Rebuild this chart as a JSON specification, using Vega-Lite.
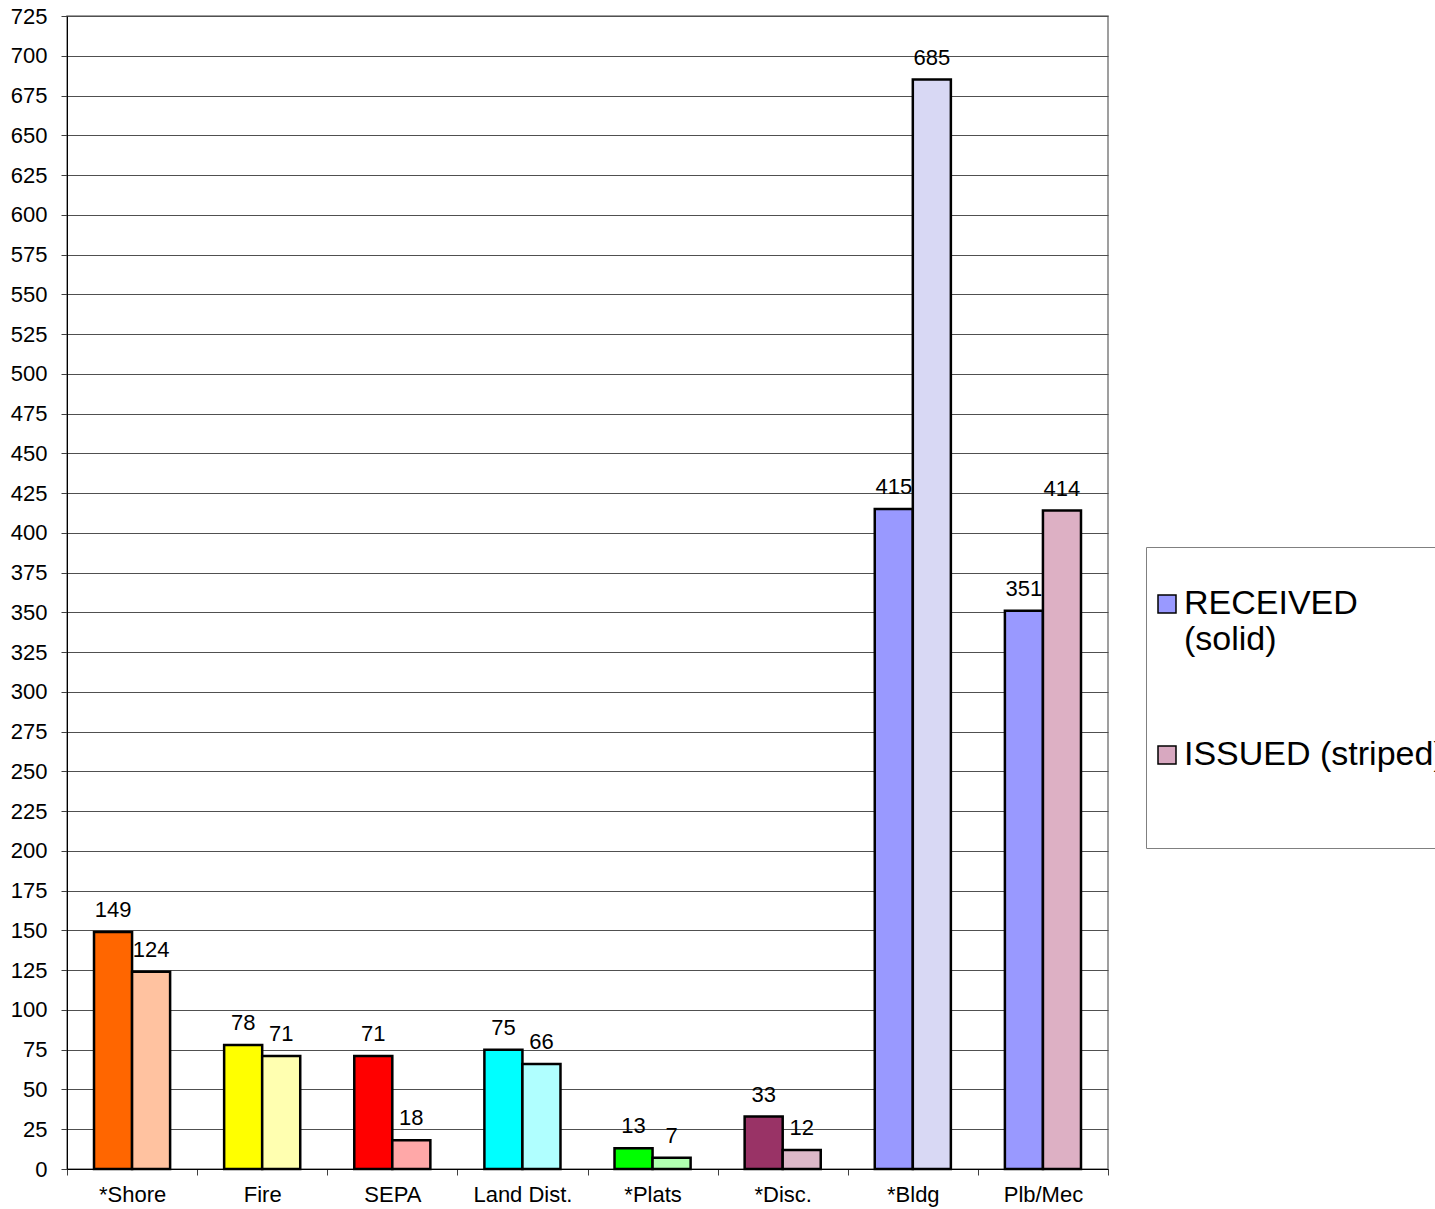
{
  "$schema": "https://vega.github.io/schema/vega-lite/v6.json",
  "width": 1041,
  "height": 1153,
  "autosize": "none",
  "padding": {"left": 67, "top": 16, "right": 327, "bottom": 40},
  "background": "white",
  "config": {
    "font": "Liberation Sans",
    "view": {"fill": "#C0C0C0", "stroke": "#808080", "strokeWidth": 1.5}
  },
  "data": {
    "values": [
      {"category": "*Shore", "type": "RECEIVED", "bar": "Shore R", "value": 149},
      {"category": "*Shore", "type": "ISSUED", "bar": "Shore I", "value": 124},
      {"category": "Fire", "type": "RECEIVED", "bar": "Fire R", "value": 78},
      {"category": "Fire", "type": "ISSUED", "bar": "Fire I", "value": 71},
      {"category": "SEPA", "type": "RECEIVED", "bar": "SEPA R", "value": 71},
      {"category": "SEPA", "type": "ISSUED", "bar": "SEPA I", "value": 18},
      {"category": "Land Dist.", "type": "RECEIVED", "bar": "Land R", "value": 75},
      {"category": "Land Dist.", "type": "ISSUED", "bar": "Land I", "value": 66},
      {"category": "*Plats", "type": "RECEIVED", "bar": "Plats R", "value": 13},
      {"category": "*Plats", "type": "ISSUED", "bar": "Plats I", "value": 7},
      {"category": "*Disc.", "type": "RECEIVED", "bar": "Disc R", "value": 33},
      {"category": "*Disc.", "type": "ISSUED", "bar": "Disc I", "value": 12},
      {"category": "*Bldg", "type": "RECEIVED", "bar": "Bldg R", "value": 415},
      {"category": "*Bldg", "type": "ISSUED", "bar": "Bldg I", "value": 685},
      {"category": "Plb/Mec", "type": "RECEIVED", "bar": "Plb R", "value": 351},
      {"category": "Plb/Mec", "type": "ISSUED", "bar": "Plb I", "value": 414}
    ]
  },
  "encoding": {
    "x": {
      "field": "category", "type": "nominal", "sort": null,
      "scale": {"paddingInner": 0, "paddingOuter": 0},
      "axis": {
        "title": null, "labelAngle": 0, "labelFontSize": 22, "labelColor": "black",
        "tickBand": "extent", "tickSize": 6, "tickColor": "#404040", "domainColor": "black",
        "labelPadding": 9
      }
    },
    "xOffset": {
      "field": "type", "type": "nominal", "sort": ["RECEIVED", "ISSUED"],
      "scale": {"paddingOuter": 0.71, "paddingInner": 0}
    },
    "y": {
      "field": "value", "type": "quantitative",
      "scale": {"domain": [0, 725], "nice": false},
      "axis": {
        "title": null, "labelFontSize": 22, "labelColor": "black",
        "values": [0,25,50,75,100,125,150,175,200,225,250,275,300,325,350,375,400,425,450,475,500,525,550,575,600,625,650,675,700,725],
        "grid": true, "gridColor": "#505050", "gridWidth": 1,
        "tickSize": 6, "tickColor": "#404040", "domainColor": "black", "labelPadding": 14
      }
    }
  },
  "layer": [
    {
      "mark": {"type": "bar", "stroke": "black", "strokeWidth": 2.5},
      "encoding": {
        "fill": {
          "field": "bar", "type": "nominal", "legend": null,
          "scale": {
            "domain": ["Shore R","Shore I","Fire R","Fire I","SEPA R","SEPA I","Land R","Land I","Plats R","Plats I","Disc R","Disc I","Bldg R","Bldg I","Plb R","Plb I"],
            "range": ["#FF6600","#FFC2A0","#FFFF00","#FFFFB0","#FF0000","#FFA8A8","#00FFFF","#B0FFFF","#00FF00","#B0FFB0","#993366","#DDB8C8","#9999FF","#D8D8F4","#9999FF","#DDB0C4"]
          }
        }
      }
    },
    {
      "mark": {"type": "text", "baseline": "alphabetic", "dy": -15, "fontSize": 22, "color": "black"},
      "encoding": {"text": {"field": "value", "type": "quantitative"}}
    },
    {
      "data": {"values": [{"series": "RECEIVED (solid)"}, {"series": "ISSUED (striped)"}]},
      "mark": {"type": "square", "opacity": 0, "size": 0},
      "encoding": {
        "x": null, "xOffset": null, "y": null,
        "color": {
          "field": "series", "type": "nominal",
          "scale": {"domain": ["RECEIVED (solid)", "ISSUED (striped)"], "range": ["#9999FF", "#D8A8C0"]},
          "legend": {
            "orient": "none", "legendX": 1079, "legendY": 531,
            "title": " ", "titleFontSize": 20, "titlePadding": 16,
            "labelFontSize": 34, "labelColor": "black", "labelLimit": 1000,
            "labelBaseline": "middle",
            "labelExpr": "datum.label == 'RECEIVED (solid)' ? ['RECEIVED', '(solid)', '', ''] : ['ISSUED (striped)', '', '']",
            "symbolType": "square", "symbolSize": 324, "symbolOpacity": 1,
            "symbolStrokeColor": "black", "symbolStrokeWidth": 1.5,
            "rowPadding": 9, "padding": 4, "labelOffset": 0,
            "fillColor": "white", "strokeColor": "#808080"
          }
        }
      }
    }
  ]
}
